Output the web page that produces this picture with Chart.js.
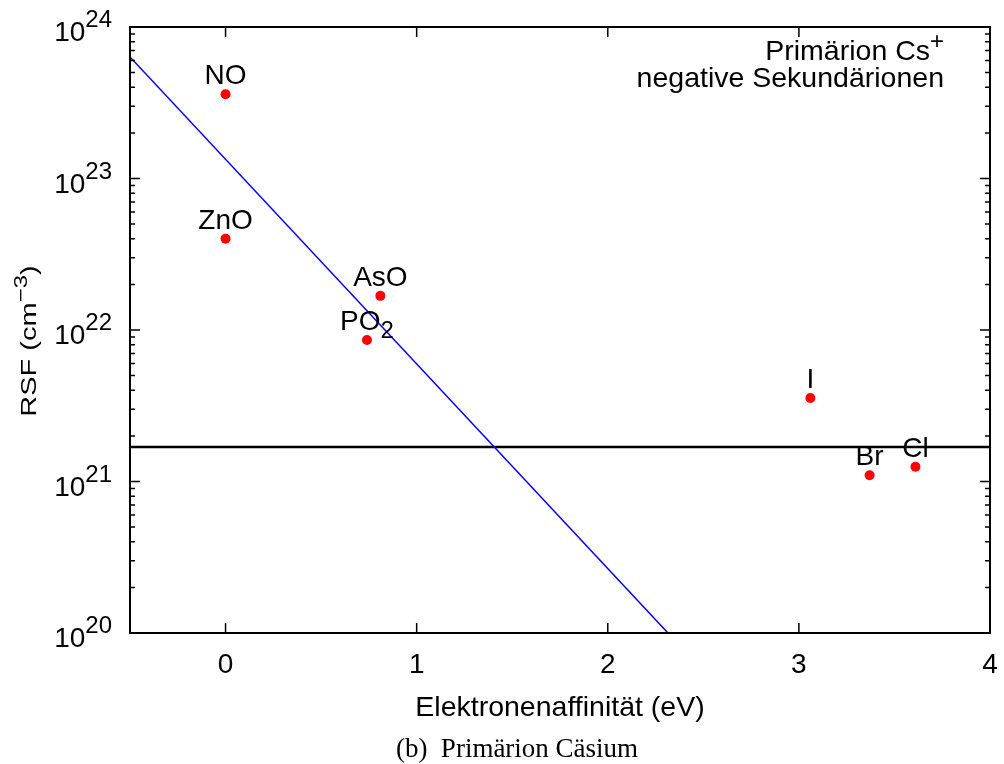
<!DOCTYPE html>
<html>
<head>
<meta charset="utf-8">
<script src="https://cdn.jsdelivr.net/npm/chart.js@4"></script>
<style>
  body { margin: 0; background: #fff; }
  canvas { display: block; }
</style>
</head>
<body>
<canvas id="chart" width="1004" height="764"></canvas>
<script>
// Messpunkte: Spezies, Elektronenaffinität (eV), RSF (cm^-3)
const species = ['NO', 'ZnO', 'AsO', 'PO2', 'I', 'Br', 'Cl'];
const affinity = [0, 0, 0.81, 0.74, 3.06, 3.37, 3.61];
const rsf = [3.6e23, 4.0e22, 1.68e22, 8.6e21, 3.56e21, 1.1e21, 1.25e21];

// Ausgleichsgerade (zwei Endpunkte) und Mittelwert
const fitX = [-0.5, 2.315];
const fitY = [6.34e23, 1e20];
const meanX = [-0.5, 4];
const meanRsf = 1.69e21;

// Achsen
const xRange = [-0.5, 4];
const xTicks = [0, 1, 2, 3, 4];
const yExponents = [20, 21, 22, 23, 24];

const caption = '(b)\u2002Primärion Cäsium';

const FONT = '"Liberation Sans", Arial, sans-serif';
const font = s => s + 'px ' + FONT;

// draws a list of text runs [{t, size, dy}] on one baseline
function drawRuns(ctx, runs, x, y, align) {
  let w = 0;
  runs.forEach(r => { ctx.font = font(r.size); r.w = ctx.measureText(r.t).width; w += r.w; });
  let cx = align === 'right' ? x - w : align === 'center' ? x - w / 2 : x;
  ctx.textAlign = 'left';
  ctx.textBaseline = 'alphabetic';
  runs.forEach(r => { ctx.font = font(r.size); ctx.fillText(r.t, cx, y + (r.dy || 0)); cx += r.w; });
}

const frameAndText = {
  id: 'frameAndText',
  afterDatasetsDraw(chart) {
    const { ctx, chartArea: a, scales: { x, y } } = chart;
    ctx.save();
    ctx.strokeStyle = '#000';
    ctx.fillStyle = '#000';

    // inward ticks, mirrored
    ctx.lineWidth = 1.5;
    ctx.beginPath();
    xTicks.forEach(v => {
      const px = x.getPixelForValue(v);
      ctx.moveTo(px, a.bottom); ctx.lineTo(px, a.bottom - 10);
      ctx.moveTo(px, a.top); ctx.lineTo(px, a.top + 10);
    });
    yExponents.forEach((e, i) => {
      const py = y.getPixelForValue(Math.pow(10, e));
      ctx.moveTo(a.left, py); ctx.lineTo(a.left + 10, py);
      ctx.moveTo(a.right, py); ctx.lineTo(a.right - 10, py);
      if (i < yExponents.length - 1) {
        for (let m = 2; m <= 9; m++) {
          const pm = y.getPixelForValue(m * Math.pow(10, e));
          ctx.moveTo(a.left, pm); ctx.lineTo(a.left + 5, pm);
          ctx.moveTo(a.right, pm); ctx.lineTo(a.right - 5, pm);
        }
      }
    });
    ctx.stroke();

    ctx.lineWidth = 2;
    ctx.strokeRect(a.left, a.top, a.right - a.left, a.bottom - a.top);

    // tick labels
    xTicks.forEach(v => drawRuns(ctx, [{ t: String(v), size: 28 }], x.getPixelForValue(v), a.bottom + 40, 'center'));
    yExponents.forEach(e => {
      const py = y.getPixelForValue(Math.pow(10, e));
      drawRuns(ctx, [{ t: '10', size: 28, dy: 14 }, { t: String(e), size: 24 }], a.left - 18, py, 'right');
    });

    // axis titles
    drawRuns(ctx, [{ t: 'Elektronenaffinität (eV)', size: 28.5 }], (a.left + a.right) / 2, 716, 'center');
    ctx.save();
    ctx.translate(36, 341);
    ctx.rotate(-Math.PI / 2);
    ctx.scale(1, 0.78);
    drawRuns(ctx, [{ t: 'RSF (cm', size: 29 }, { t: '−3', size: 24, dy: -12 }, { t: ')', size: 29 }], 0, 0, 'center');
    ctx.restore();

    // key text
    drawRuns(ctx, [{ t: 'Primärion Cs', size: 28.5 }, { t: '+', size: 24, dy: -11 }], 944, 60, 'right');
    drawRuns(ctx, [{ t: 'negative Sekundärionen', size: 28.5 }], 944, 87, 'right');

    // point labels
    species.forEach((name, i) => {
      const px = x.getPixelForValue(affinity[i]);
      const py = y.getPixelForValue(rsf[i]);
      const m = name.match(/^(.*?)(\d+)$/);
      const runs = m ? [{ t: m[1], size: 28 }, { t: m[2], size: 24, dy: 8 }] : [{ t: name, size: 28 }];
      drawRuns(ctx, runs, px, py - 10, 'center');
    });

    // caption below the plot
    ctx.font = '27px "Liberation Serif", serif';
    ctx.textAlign = 'center';
    ctx.fillText(caption, 517, 757);
    ctx.restore();
  }
};

new Chart(document.getElementById('chart').getContext('2d'), {
  type: 'scatter',
  data: {
    datasets: [
      {
        type: 'line',
        data: fitX.map((v, i) => ({ x: v, y: fitY[i] })),
        borderColor: '#0000ff',
        borderWidth: 1.5,
        pointRadius: 0,
        fill: false
      },
      {
        type: 'line',
        data: meanX.map(v => ({ x: v, y: meanRsf })),
        borderColor: '#000000',
        borderWidth: 2.5,
        pointRadius: 0,
        fill: false
      },
      {
        data: affinity.map((v, i) => ({ x: v, y: rsf[i] })),
        backgroundColor: '#ff0000',
        borderWidth: 0,
        pointRadius: 5
      }
    ]
  },
  options: {
    responsive: false,
    animation: false,
    devicePixelRatio: 1,
    layout: { padding: { left: 130, top: 27, right: 14, bottom: 131 } },
    plugins: { legend: { display: false }, tooltip: { enabled: false } },
    scales: {
      x: {
        type: 'linear', min: xRange[0], max: xRange[1],
        ticks: { display: false }, grid: { display: false }, border: { display: false },
        afterFit: s => { s.height = 0; }
      },
      y: {
        type: 'logarithmic', min: 1e20, max: 1e24,
        ticks: { display: false }, grid: { display: false }, border: { display: false },
        afterFit: s => { s.width = 0; }
      }
    }
  },
  plugins: [frameAndText]
});
</script>
</body>
</html>
